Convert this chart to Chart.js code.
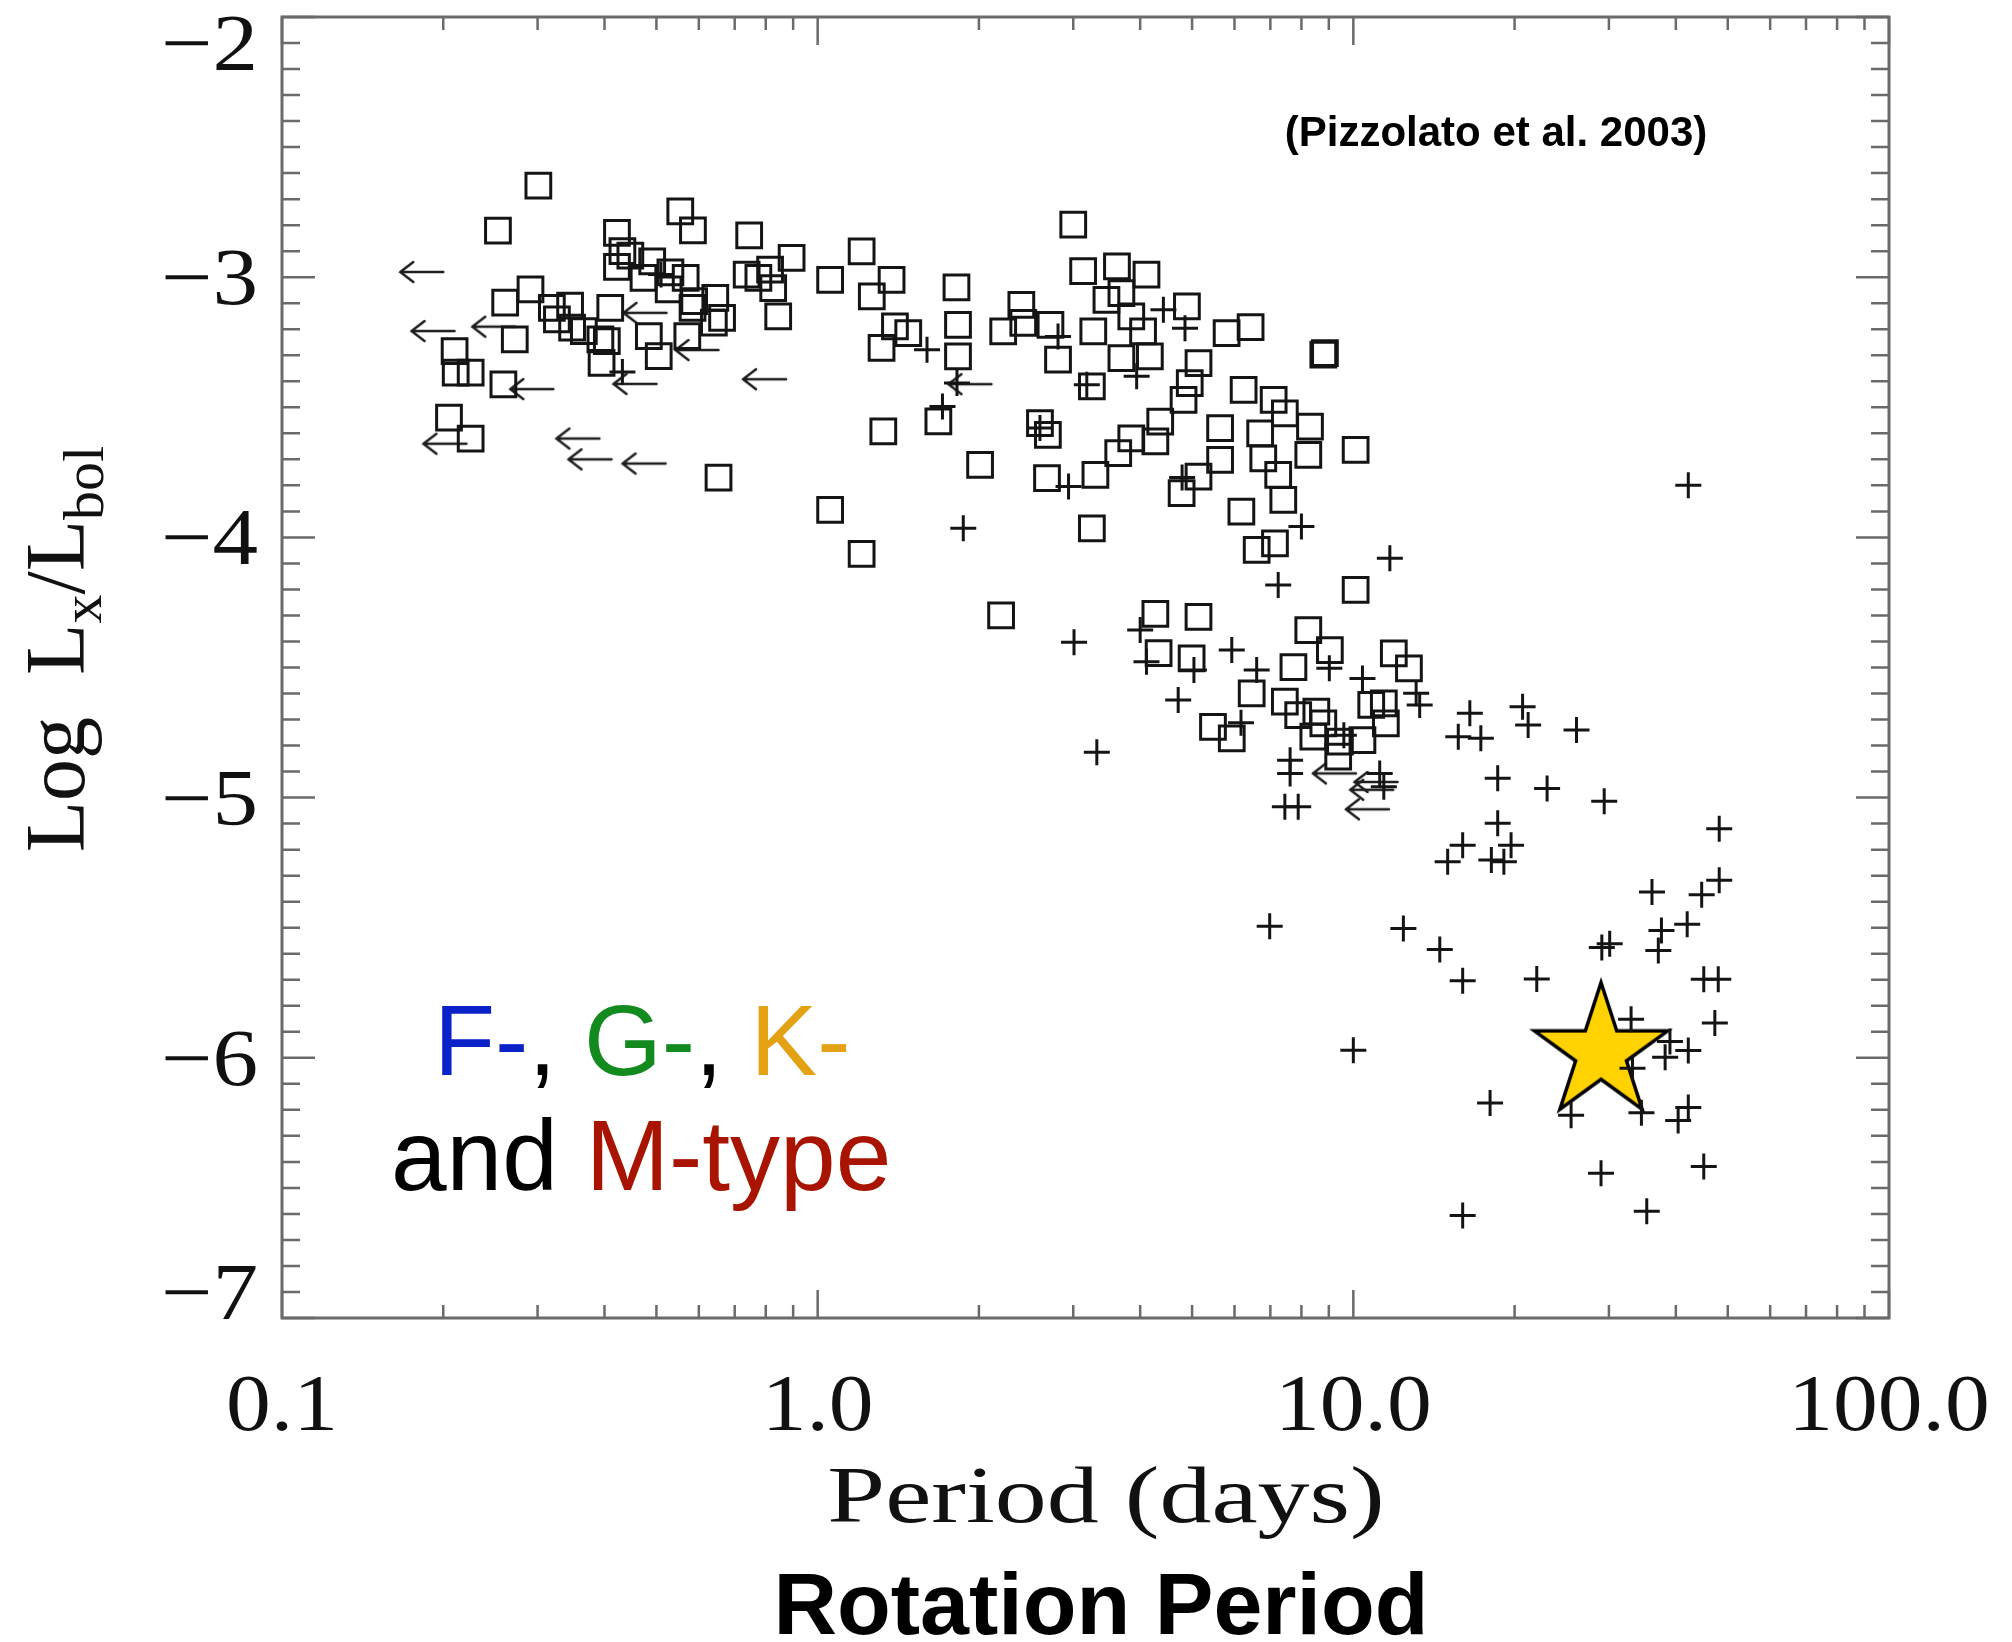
<!DOCTYPE html>
<html>
<head>
<meta charset="utf-8">
<script src="https://cdn.jsdelivr.net/npm/chart.js@4/dist/chart.umd.min.js"></script>
<style>
html,body{margin:0;padding:0;background:#fff;}
canvas{display:block;}
</style>
</head>
<body>
<canvas id="c" width="2012" height="1642"></canvas>
<script>
// rotation period (days) and log Lx/Lbol
// open squares
const squarePeriod=[0.301,0.253,0.422,0.554,0.585,0.432,0.447,0.422,0.491,0.473,0.531,0.567,0.527,0.588,0.584,0.644,0.640,0.663,0.571,0.505,0.484,0.291,0.261,0.272,0.319,0.326,0.345,0.348,0.366,0.393,0.404,0.410,0.395,0.210,0.211,0.225,0.259,0.205,0.225,0.653,
0.745,0.894,0.737,0.775,0.815,0.826,0.844,1.055,1.208,1.374,1.262,1.316,1.394,1.476,1.816,1.828,1.828,1.326,1.68,2.01,1.055,1.208,3.0,3.13,3.62,4.11,2.40,2.22,2.42,2.72,2.81,3.27,3.46,3.69,3.85,4.05,3.69,4.17,3.25,2.60,2.69,2.68,3.30,3.64,3.85,4.27,4.36,3.25,2.2,
4.89,5.80,6.43,8.79,8.85,5.14,4.95,4.82,6.24,7.10,7.45,8.30,5.64,6.70,8.24,10.1,5.64,6.79,5.14,7.24,4.78,7.40,6.18,6.60,7.14,10.1,5.14,8.24,9.04,11.9,
4.27,12.7,4.33,4.99,7.73,6.46,7.45,5.47,5.93,7.89,8.53,8.79,8.42,9.44,9.37,10.4,10.8,11.4,11.5];
const squareLogLx=[-2.648,-2.821,-2.830,-2.747,-2.820,-2.900,-2.917,-2.960,-2.939,-3.003,-2.981,-3.003,-3.047,-3.092,-3.118,-3.079,-3.175,-3.156,-3.226,-3.303,-3.226,-3.047,-3.098,-3.239,-3.118,-3.162,-3.109,-3.194,-3.207,-3.239,-3.246,-3.118,-3.329,-3.284,-3.367,-3.367,-3.412,-3.540,-3.620,-3.770,
-2.839,-2.926,-2.990,-3.003,-2.971,-3.042,-3.151,-3.010,-2.901,-3.010,-3.074,-3.272,-3.189,-3.215,-3.039,-3.183,-3.304,-3.593,-3.554,-3.721,-3.894,-4.063,-2.798,-2.977,-2.958,-2.990,-3.106,-3.208,-3.176,-3.183,-3.317,-3.208,-3.087,-3.061,-3.151,-3.208,-3.311,-3.304,-3.420,-3.561,-3.606,-3.772,-3.760,-3.676,-3.619,-3.631,-3.555,-3.965,-4.30,
-3.112,-3.215,-3.192,-3.298,-3.292,-3.330,-3.407,-3.471,-3.433,-3.471,-3.523,-3.574,-3.580,-3.600,-3.683,-3.664,-3.702,-3.696,-3.766,-3.760,-3.830,-3.856,-3.901,-4.048,-4.023,-4.202,-4.305,-4.356,-4.433,-4.446,
-4.294,-4.503,-4.445,-4.465,-4.499,-4.599,-4.631,-4.728,-4.772,-4.683,-4.670,-4.715,-4.766,-4.785,-4.843,-4.779,-4.644,-4.638,-4.715];

// crosses
const crossPeriod=[0.432,0.51,1.60,1.82,1.71,1.87,2.81,2.94,4.42,3.94,3.18,4.85,4.79,2.6,8.0,11.7,7.24,5.93,3.01,4.0,4.11,5.04,6.60,4.71,3.32,6.17,9.02,10.4,13.1,13.3,9.6,7.62,7.62,7.45,7.89,11.2,11.4,
16.5,15.7,17.3,20.7,21.2,18.6,23.0,18.6,16.0,19.7,15.0,18.1,19.1,6.98,12.4,14.5,16.0,22.0,10.0,42.2,26.1,29.4,48.2,48.2,44.7,36.1,42.0,37.6,37.1,29.1,30.1,45.1,48.0,33.0,47.3,39.0,38.2,42.2,33.2,18.0,25.5,34.5,40.4,42.2,29.0,45.1,16.0,35.3];
const crossLogLx=[-3.364,-2.99,-3.279,-3.407,-3.497,-3.965,-3.228,-3.804,-3.125,-3.381,-3.413,-3.196,-3.77,-3.58,-3.958,-4.080,-4.183,-4.433,-4.403,-4.356,-4.478,-4.510,-4.510,-4.625,-4.826,-4.712,-4.503,-4.542,-4.599,-4.644,-4.760,-4.856,-4.907,-5.035,-5.035,-4.907,-4.958,
-4.676,-4.766,-4.772,-4.651,-4.721,-4.926,-4.965,-5.099,-5.183,-5.183,-5.247,-5.240,-5.247,-5.494,-5.503,-5.584,-5.704,-5.697,-5.971,-3.80,-4.740,-5.014,-5.12,-5.318,-5.373,-5.363,-5.487,-5.511,-5.588,-5.576,-5.562,-5.698,-5.698,-5.852,-5.866,-5.937,-5.998,-5.972,-6.04,-6.174,-6.221,-6.211,-6.241,-6.191,-6.444,-6.418,-6.606,-6.590];

// upper limits on the period (left arrows)
const limitPeriod=[0.182,0.191,0.248,0.475,0.292,0.455,0.594,0.201,0.356,0.375,0.473,0.794,1.92,9.2,11.0,10.8,10.6];
const limitLogLx=[-2.98,-3.207,-3.19,-3.137,-3.43,-3.41,-3.28,-3.64,-3.62,-3.70,-3.716,-3.392,-3.411,-4.907,-4.94,-4.97,-5.045];

// the Sun
const sunPeriod=[29.0];
const sunLogLx=[-5.98];

const xTickValues=[0.1,1,10,100];
const xTickLabels=["0.1","1.0","10.0","100.0"];
const yTickValues=[-2,-3,-4,-5,-6,-7];
const yTickLabels=["\u22122","\u22123","\u22124","\u22125","\u22126","\u22127"];

function pts(xs,ys){return xs.map((v,i)=>({x:v,y:ys[i]}));}

// arrow marker
const arrow=document.createElement("canvas");
arrow.width=50;arrow.height=28;
(function(){
const g=arrow.getContext("2d");
g.strokeStyle="#1e1e1e";g.lineWidth=2.5;g.lineCap="round";
g.beginPath();
g.moveTo(4,14);g.lineTo(47,14);
g.moveTo(17,4);g.lineTo(4,14);g.lineTo(17,24);
g.stroke();
})();

// five-pointed star marker
const star=document.createElement("canvas");
star.width=160;star.height=160;
(function(){
const g=star.getContext("2d");
const R=70,r=R*0.382,cx=80,cy=80;
g.beginPath();
for(let i=0;i<10;i++){
const rr=i%2?r:R;
const a=-Math.PI/2+i*Math.PI/5;
const px=cx+rr*Math.cos(a),py=cy+rr*Math.sin(a);
if(i)g.lineTo(px,py);else g.moveTo(px,py);
}
g.closePath();
g.fillStyle="#FFD200";g.fill();
g.lineWidth=3.5;g.strokeStyle="#000";g.lineJoin="miter";g.stroke();
})();

function txt(ctx,s,x,y,font,align,sx,color){
ctx.save();
ctx.font=font;ctx.fillStyle=color||"#111";
ctx.translate(x,y);ctx.scale(sx||1,1);
ctx.textAlign=align||"left";ctx.textBaseline="alphabetic";
ctx.fillText(s,0,0);
ctx.restore();
}
function rich(ctx,parts,x,y,align){
let w=0;
parts.forEach(p=>{ctx.font=p.font;p.w=ctx.measureText(p.t).width;w+=p.w;});
let cx=align==="center"?x-w/2:x;
ctx.textAlign="left";ctx.textBaseline="alphabetic";
parts.forEach(p=>{ctx.font=p.font;ctx.fillStyle=p.c||"#111";ctx.fillText(p.t,cx,y+(p.dy||0));cx+=p.w;});
}

const serif='"Liberation Serif","Times New Roman",serif';
const sans='"Liberation Sans",Arial,sans-serif';

const decor={
id:"decor",
afterDatasetsDraw(chart){
const {ctx,chartArea:a,scales:{x,y}}=chart;
ctx.save();
ctx.strokeStyle="#6a6a6a";
ctx.lineWidth=2.5;
ctx.beginPath();
// y ticks, both sides
for(let i=0;i<=50;i++){
const v=-7+i/10;
const py=y.getPixelForValue(v);
const len=i%10===0?33:18;
ctx.moveTo(a.left,py);ctx.lineTo(a.left+len,py);
ctx.moveTo(a.right,py);ctx.lineTo(a.right-len,py);
}
// x ticks, top and bottom
[0.1,1,10].forEach(d=>{
for(let k=1;k<=10;k++){
const px=x.getPixelForValue(d*k);
const len=(k===1||k===10)?28:13;
ctx.moveTo(px,a.bottom);ctx.lineTo(px,a.bottom-len);
ctx.moveTo(px,a.top);ctx.lineTo(px,a.top+len);
}
});
ctx.stroke();
ctx.lineWidth=3;
ctx.strokeRect(a.left,a.top,a.right-a.left,a.bottom-a.top);
ctx.restore();

// tick labels
const tf="80px "+serif;
xTickValues.forEach((v,i)=>{
txt(ctx,xTickLabels[i],x.getPixelForValue(v),1430,tf,"center",1.12,"#111");
});
yTickValues.forEach((v,i)=>{
let cy=y.getPixelForValue(v);
cy=Math.max(a.top+26,Math.min(a.bottom-26,cy));
txt(ctx,yTickLabels[i],258,cy+27,tf,"right",1.14,"#111");
});

// axis titles
txt(ctx,"Period (days)",1106,1522,"80px "+serif,"center",1.3,"#111");
ctx.save();
ctx.translate(84,649);
ctx.rotate(-Math.PI/2);
const big="84px "+serif,small="58px "+serif;
rich(ctx,[
{t:"Log  L",font:big},
{t:"x",font:small,dy:17},
{t:"/",font:big},
{t:"L",font:big},
{t:"bol",font:small,dy:19}
],0,0,"center");
ctx.restore();

// annotations
txt(ctx,"(Pizzolato et al. 2003)",1496,146,"bold 42px "+sans,"center",1,"#000");
txt(ctx,"Rotation Period",1101,1634,"bold 88px "+sans,"center",1,"#000");
const f100="100px "+sans;
rich(ctx,[
{t:"F-",font:f100,c:"#0a22c8"},
{t:", ",font:f100,c:"#000"},
{t:"G-",font:f100,c:"#138a1e"},
{t:", ",font:f100,c:"#000"},
{t:"K-",font:f100,c:"#e3a214"}
],434,1075);
rich(ctx,[
{t:"and ",font:f100,c:"#000"},
{t:"M-type",font:f100,c:"#a81400"}
],391,1190);
}
};

new Chart(document.getElementById("c"),{
type:"scatter",
data:{
datasets:[
{label:"squares",data:pts(squarePeriod,squareLogLx),pointStyle:"rect",pointRadius:17.5,borderWidth:3,borderColor:"#141414",backgroundColor:"rgba(0,0,0,0)"},
{label:"crosses",data:pts(crossPeriod,crossLogLx),pointStyle:"cross",pointRadius:13,borderWidth:3,borderColor:"#141414",backgroundColor:"rgba(0,0,0,0)"},
{label:"limits",data:pts(limitPeriod,limitLogLx),pointStyle:arrow,pointRadius:5},
{label:"Sun",data:pts(sunPeriod,sunLogLx),pointStyle:star,pointRadius:5}
]
},
options:{
responsive:false,
animation:false,
events:[],
devicePixelRatio:1,
layout:{autoPadding:false,padding:{left:282,right:123,top:17,bottom:324}},
scales:{
x:{type:"logarithmic",min:0.1,max:100,display:false},
y:{type:"linear",min:-7,max:-2,display:false}
},
plugins:{legend:{display:false},tooltip:{enabled:false}}
},
plugins:[decor]
});
</script>
</body>
</html>
